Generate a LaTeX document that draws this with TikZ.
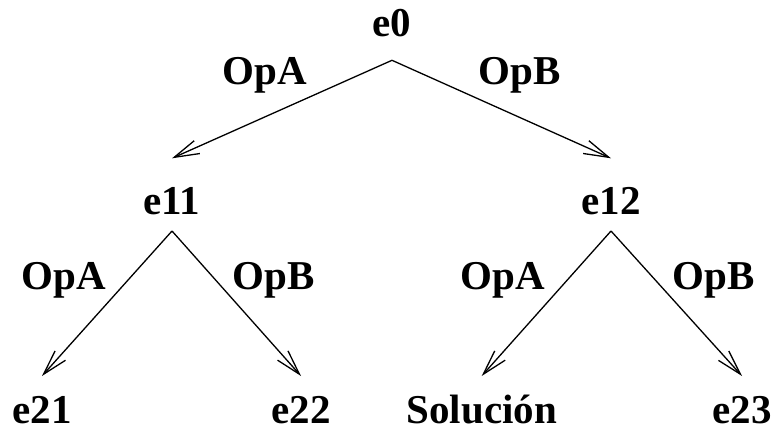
\documentclass[tikz,border=0pt]{standalone}
\usepackage{fontspec}
\setmainfont{Liberation Serif}
\usetikzlibrary{arrows.meta,calc}
\begin{document}
\begin{tikzpicture}[x=1pt,y=-1pt,
  state/.style={anchor=base,inner sep=0pt,font=\fontsize{41}{49}\selectfont\bfseries},
  oplabel/.style={anchor=base,inner sep=0pt,font=\fontsize{41}{49}\selectfont\bfseries},
  move/.style={line width=1.3pt,-{Straight Barb[length=25pt,width=14pt,line width=1.3pt]}}]
  \useasboundingbox (0,0) rectangle (773,427);
  \clip (0,0) rectangle (773,427);

  % states of the search tree
  \node[state] (e0)  at (392,36.7) {e0};
  \node[state] (e11) at (172,215) {e11};
  \node[state] (e12) at (611,215) {e12};
  \node[state] (e21) at (42,423) {e21};
  \node[state] (e22) at (301,423) {e22};
  \node[state] (sol) at (481.7,423) {Solución};
  \node[state] (e23) at (742,423) {e23};

  % operator labels
  \node[oplabel] (la0) at (265,85) {OpA};
  \node[oplabel] (lb0) at (520,85) {OpB};
  \node[oplabel] (la1) at (64,290) {OpA};
  \node[oplabel] (lb1) at (274,290) {OpB};
  \node[oplabel] (la2) at (503,290) {OpA};
  \node[oplabel] (lb2) at (714,290) {OpB};

  % transitions
  \draw[move] ($(e0.base)+(0,23.6)$) -- ($(e11.base)+(0,-56.7)$);
  \draw[move] ($(e0.base)+(0,23.6)$) -- ($(e12.base)+(0,-56.7)$);
  \draw[move] ($(e11.base)+(0,16)$) -- ($(e21.base)+(0,-47)$);
  \draw[move] ($(e11.base)+(0,16)$) -- ($(e22.base)+(0,-47)$);
  \draw[move] ($(e12.base)+(0,16)$) -- ($(sol.base)+(0,-47)$);
  \draw[move] ($(e12.base)+(0,16)$) -- ($(e23.base)+(0,-47)$);
\end{tikzpicture}
\end{document}
